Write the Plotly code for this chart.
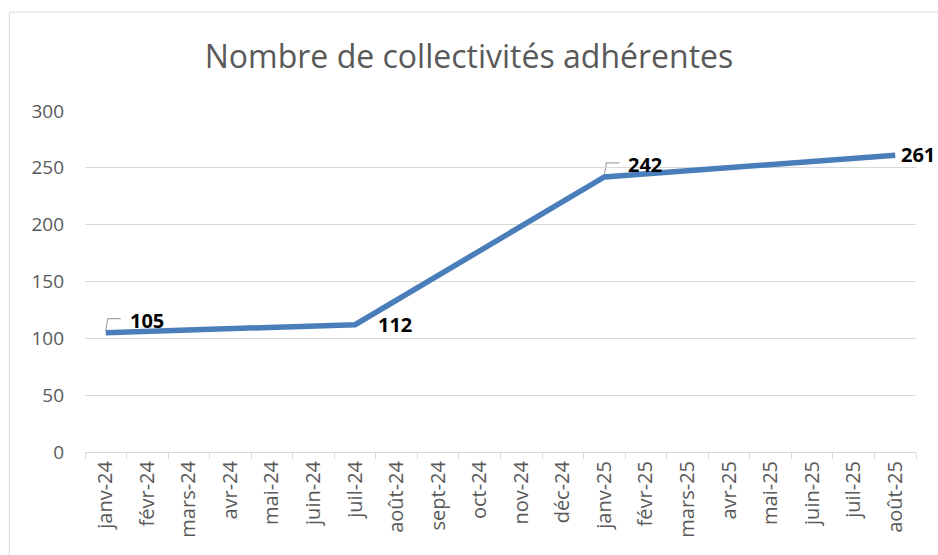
import plotly.graph_objects as go

months = ["janv-24", "févr-24", "mars-24", "avr-24", "mai-24", "juin-24", "juil-24",
          "août-24", "sept-24", "oct-24", "nov-24", "déc-24", "janv-25", "févr-25",
          "mars-25", "avr-25", "mai-25", "juin-25", "juil-25", "août-25"]
adherents = [105, None, None, None, None, None, 112, None, None, None, None, None,
             242, None, None, None, None, None, None, 261]
title = "Nombre de collectivités adhérentes"
y_ticks = [0, 50, 100, 150, 200, 250, 300]

fig = go.Figure()
fig.add_trace(go.Scatter(
    x=months, y=adherents, mode="lines", connectgaps=True,
    line=dict(color="#4a7ebb", width=5.5), hoverinfo="x+y", showlegend=False,
))

# data labels (offsets in pixels); some have an Excel-style leader bracket
label_style = {
    0: dict(xshift=41, yshift=12, leader=True),
    6: dict(xshift=40, yshift=0, leader=False),
    12: dict(xshift=41, yshift=12, leader=True),
    19: dict(xshift=23, yshift=1, leader=False),
}
for i, st in label_style.items():
    fig.add_annotation(
        x=months[i], y=adherents[i], xref="x", yref="y",
        text="<b>%d</b>" % adherents[i], showarrow=False,
        font=dict(family="Open Sans", size=20, color="#000000"),
        xshift=st["xshift"], yshift=st["yshift"],
    )
    if st["leader"]:
        fig.add_shape(
            type="path", xref="x", yref="y",
            xsizemode="pixel", ysizemode="pixel",
            xanchor=i, yanchor=adherents[i],
            path="M 0 2 L 2 14 L 15 14",
            line=dict(color="#a6a6a6", width=1.2), layer="below",
        )

fig.add_shape(type="rect", xref="paper", yref="paper",
              x0=-0.091, x1=1.2, y0=-0.5, y1=1.29,
              line=dict(color="#d9d9d9", width=1), fillcolor="rgba(0,0,0,0)",
              layer="below")

fig.update_layout(
    width=938, height=555,
    margin=dict(l=85, r=22, t=111, b=103),
    paper_bgcolor="white", plot_bgcolor="white",
    title=dict(text=title, x=0.5, xanchor="center", y=0.897, yanchor="middle",
               font=dict(family="Open Sans", size=32, color="#595959")),
    font=dict(family="Open Sans", color="#595959"),
    xaxis=dict(
        type="category", categoryorder="array", categoryarray=months,
        range=[-0.5, len(months) - 0.5], tickson="boundaries",
        tickangle=-90, ticks="outside", ticklen=6, tickcolor="#d9d9d9",
        showgrid=False, showline=True, linecolor="#d9d9d9", linewidth=1,
        tickfont=dict(family="Open Sans", size=20, color="#595959"),
        fixedrange=True,
    ),
    yaxis=dict(
        range=[0, 300], tickvals=y_ticks, showgrid=True, gridcolor="#d9d9d9",
        gridwidth=1, zeroline=False, showline=False,
        tickfont=dict(family="Open Sans", size=19, color="#595959"),
        ticklabelstandoff=20, fixedrange=True,
    ),
)

fig.write_html("out.html", config={"displayModeBar": False},
               post_script="document.body.style.margin='0';document.body.style.overflow='hidden';")
